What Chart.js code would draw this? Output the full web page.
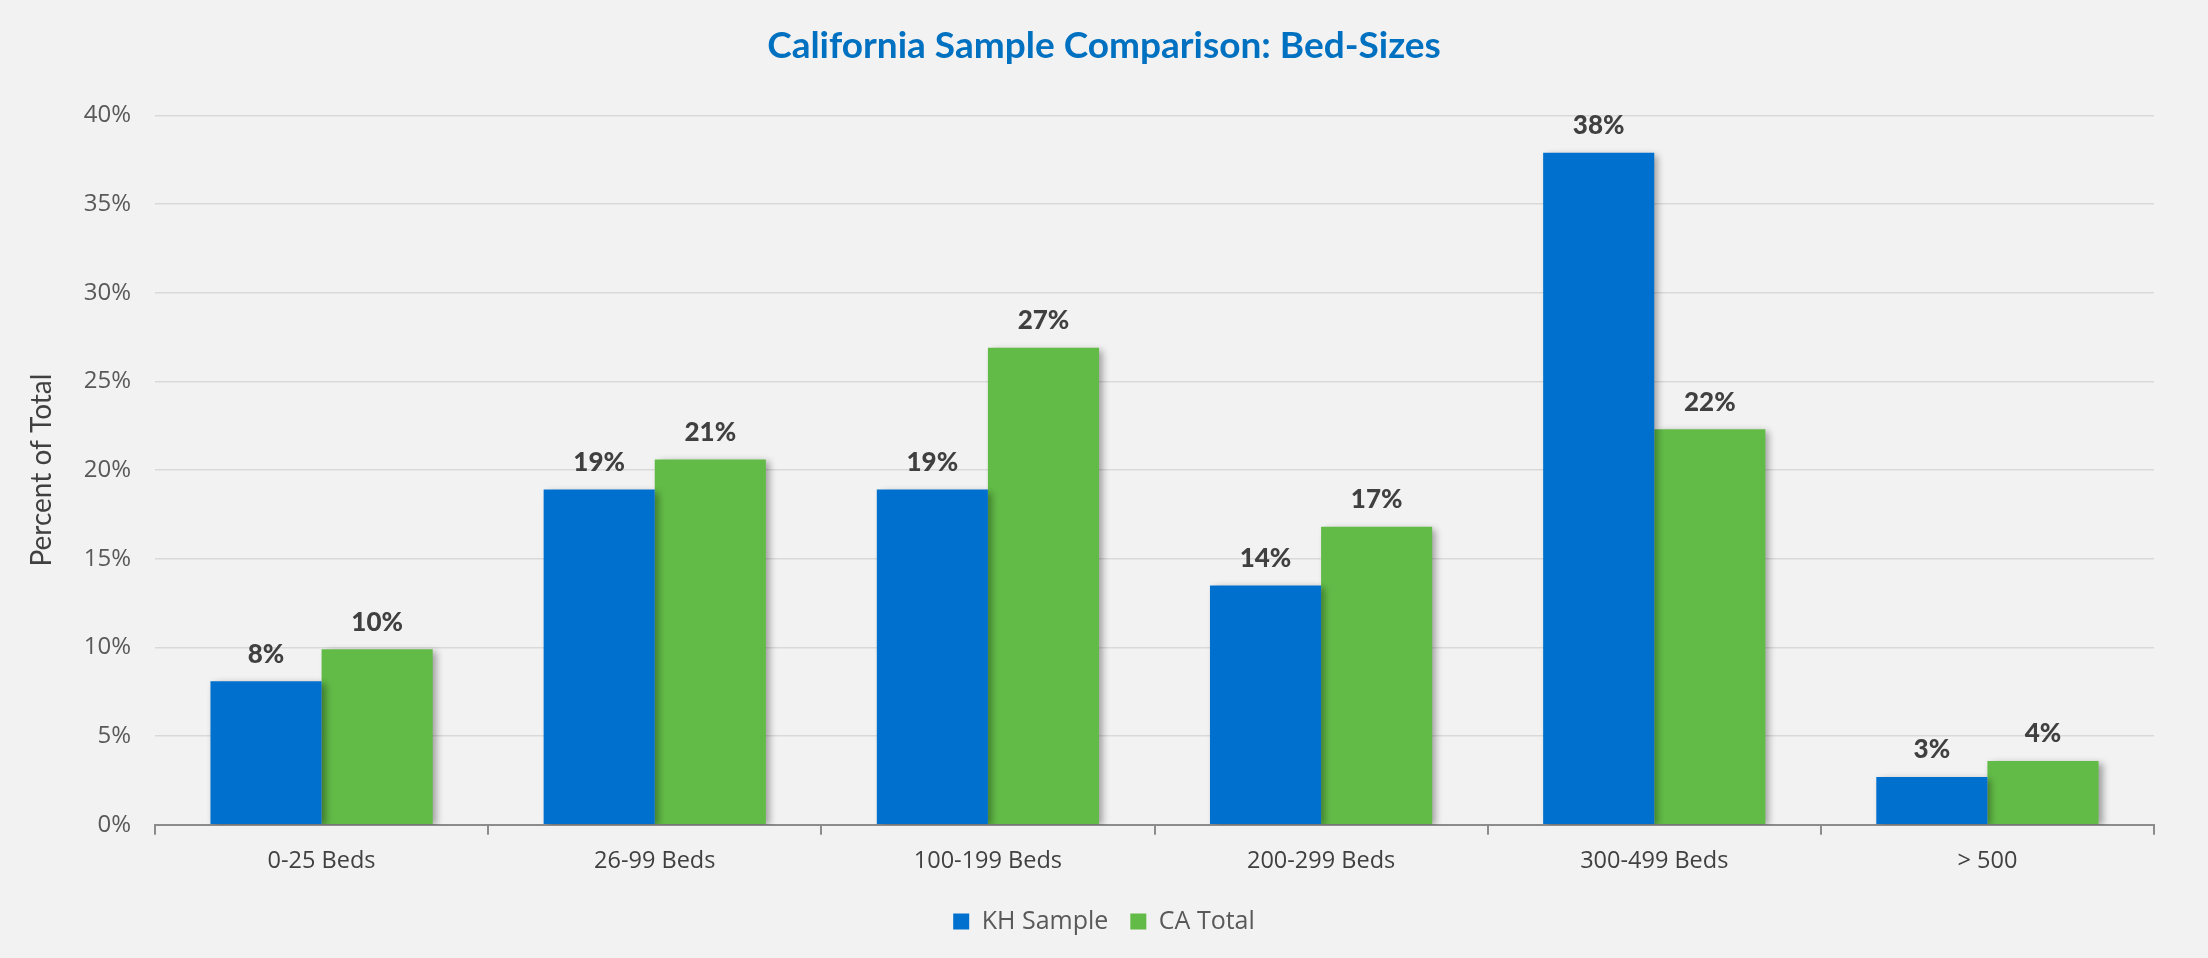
<!DOCTYPE html>
<html>
<head>
<meta charset="utf-8">
<script src="https://cdn.jsdelivr.net/npm/chart.js@4.4.0/dist/chart.umd.min.js"></script>
<style>
  html, body { margin: 0; padding: 0; background: #f2f2f2; }
  #wrap { width: 2208px; height: 958px; }
</style>
</head>
<body>
<div id="wrap"><canvas id="bedChart"></canvas></div>
<script>
// bed-size groups and the two series (percent of total)
var categories = ['0-25 Beds', '26-99 Beds', '100-199 Beds', '200-299 Beds', '300-499 Beds', '> 500'];
var khSample = [8.1, 18.9, 18.9, 13.5, 37.9, 2.7];
var caTotal = [9.9, 20.6, 26.9, 16.8, 22.3, 3.6];
var yTicks = [0, 5, 10, 15, 20, 25, 30, 35, 40];

// soft drop shadow under each bar, like the office chart
var barShadow = {
  id: 'barShadow',
  beforeDatasetDraw: function (chart) {
    var ctx = chart.ctx;
    ctx.save();
    ctx.shadowColor = 'rgba(0,0,0,0.35)';
    ctx.shadowBlur = 7;
    ctx.shadowOffsetX = 4;
    ctx.shadowOffsetY = 2;
  },
  afterDatasetDraw: function (chart) {
    chart.ctx.restore();
  }
};

// rounded value above every bar
var valueLabels = {
  id: 'valueLabels',
  afterDatasetsDraw: function (chart) {
    var ctx = chart.ctx;
    ctx.save();
    ctx.font = '900 26px Lato';
    ctx.fillStyle = '#404040';
    ctx.textAlign = 'center';
    ctx.textBaseline = 'middle';
    chart.data.datasets.forEach(function (ds, i) {
      chart.getDatasetMeta(i).data.forEach(function (bar, j) {
        ctx.fillText(Math.round(ds.data[j]) + '%', bar.x, bar.y - 27);
      });
    });
    ctx.restore();
  }
};

var bedChart = new Chart(document.getElementById('bedChart'), {
  type: 'bar',
  data: {
    labels: categories,
    datasets: [
      { label: 'KH Sample', data: khSample, backgroundColor: '#0070CE' },
      { label: 'CA Total', data: caTotal, backgroundColor: '#62BB47' }
    ]
  },
  options: {
    responsive: true,
    maintainAspectRatio: false,
    animation: false,
    layout: { padding: { left: 0, right: 0, top: 0, bottom: 14 } },
    datasets: {
      bar: { categoryPercentage: 0.667, barPercentage: 1.0 }
    },
    plugins: {
      title: {
        display: true,
        text: 'California Sample Comparison: Bed-Sizes',
        color: '#0070C0',
        font: { family: 'Lato', size: 37, weight: 'bold' },
        padding: { top: 24, bottom: 47 }
      },
      legend: {
        position: 'bottom',
        labels: {
          boxWidth: 16,
          boxHeight: 16,
          padding: 22,
          color: '#595959',
          font: { family: 'Open Sans', size: 25 }
        }
      },
      tooltip: { enabled: false }
    },
    scales: {
      x: {
        grid: {
          offset: true,
          drawOnChartArea: false,
          drawTicks: true,
          tickLength: 10,
          color: '#8c8c8c',
          lineWidth: 2
        },
        border: { display: true, color: '#8c8c8c', width: 2 },
        ticks: {
          color: '#404040',
          padding: 12,
          font: { family: 'Open Sans', size: 23.5 }
        }
      },
      y: {
        min: 0,
        max: 40,
        afterFit: function (scale) { scale.width = 155; },
        afterBuildTicks: function (scale) {
          scale.ticks = yTicks.map(function (v) { return { value: v }; });
        },
        grid: { color: '#d9d9d9', lineWidth: 1.5, drawTicks: false },
        border: { display: false },
        title: {
          display: true,
          text: 'Percent of Total',
          color: '#404040',
          font: { family: 'Lato', size: 28 },
          padding: { top: 25, bottom: 0 }
        },
        ticks: {
          color: '#595959',
          padding: 24,
          font: { family: 'Open Sans', size: 24 },
          callback: function (v) { return v + '%'; }
        }
      },
      // empty right-hand axis, only keeps a margin so the title stays centred on the page
      yRight: {
        position: 'right',
        min: 0,
        max: 40,
        afterFit: function (scale) { scale.width = 54; },
        grid: { drawOnChartArea: false, drawTicks: false },
        border: { display: false },
        ticks: { display: false }
      }
    }
  },
  plugins: [barShadow, valueLabels]
});
</script>
</body>
</html>
